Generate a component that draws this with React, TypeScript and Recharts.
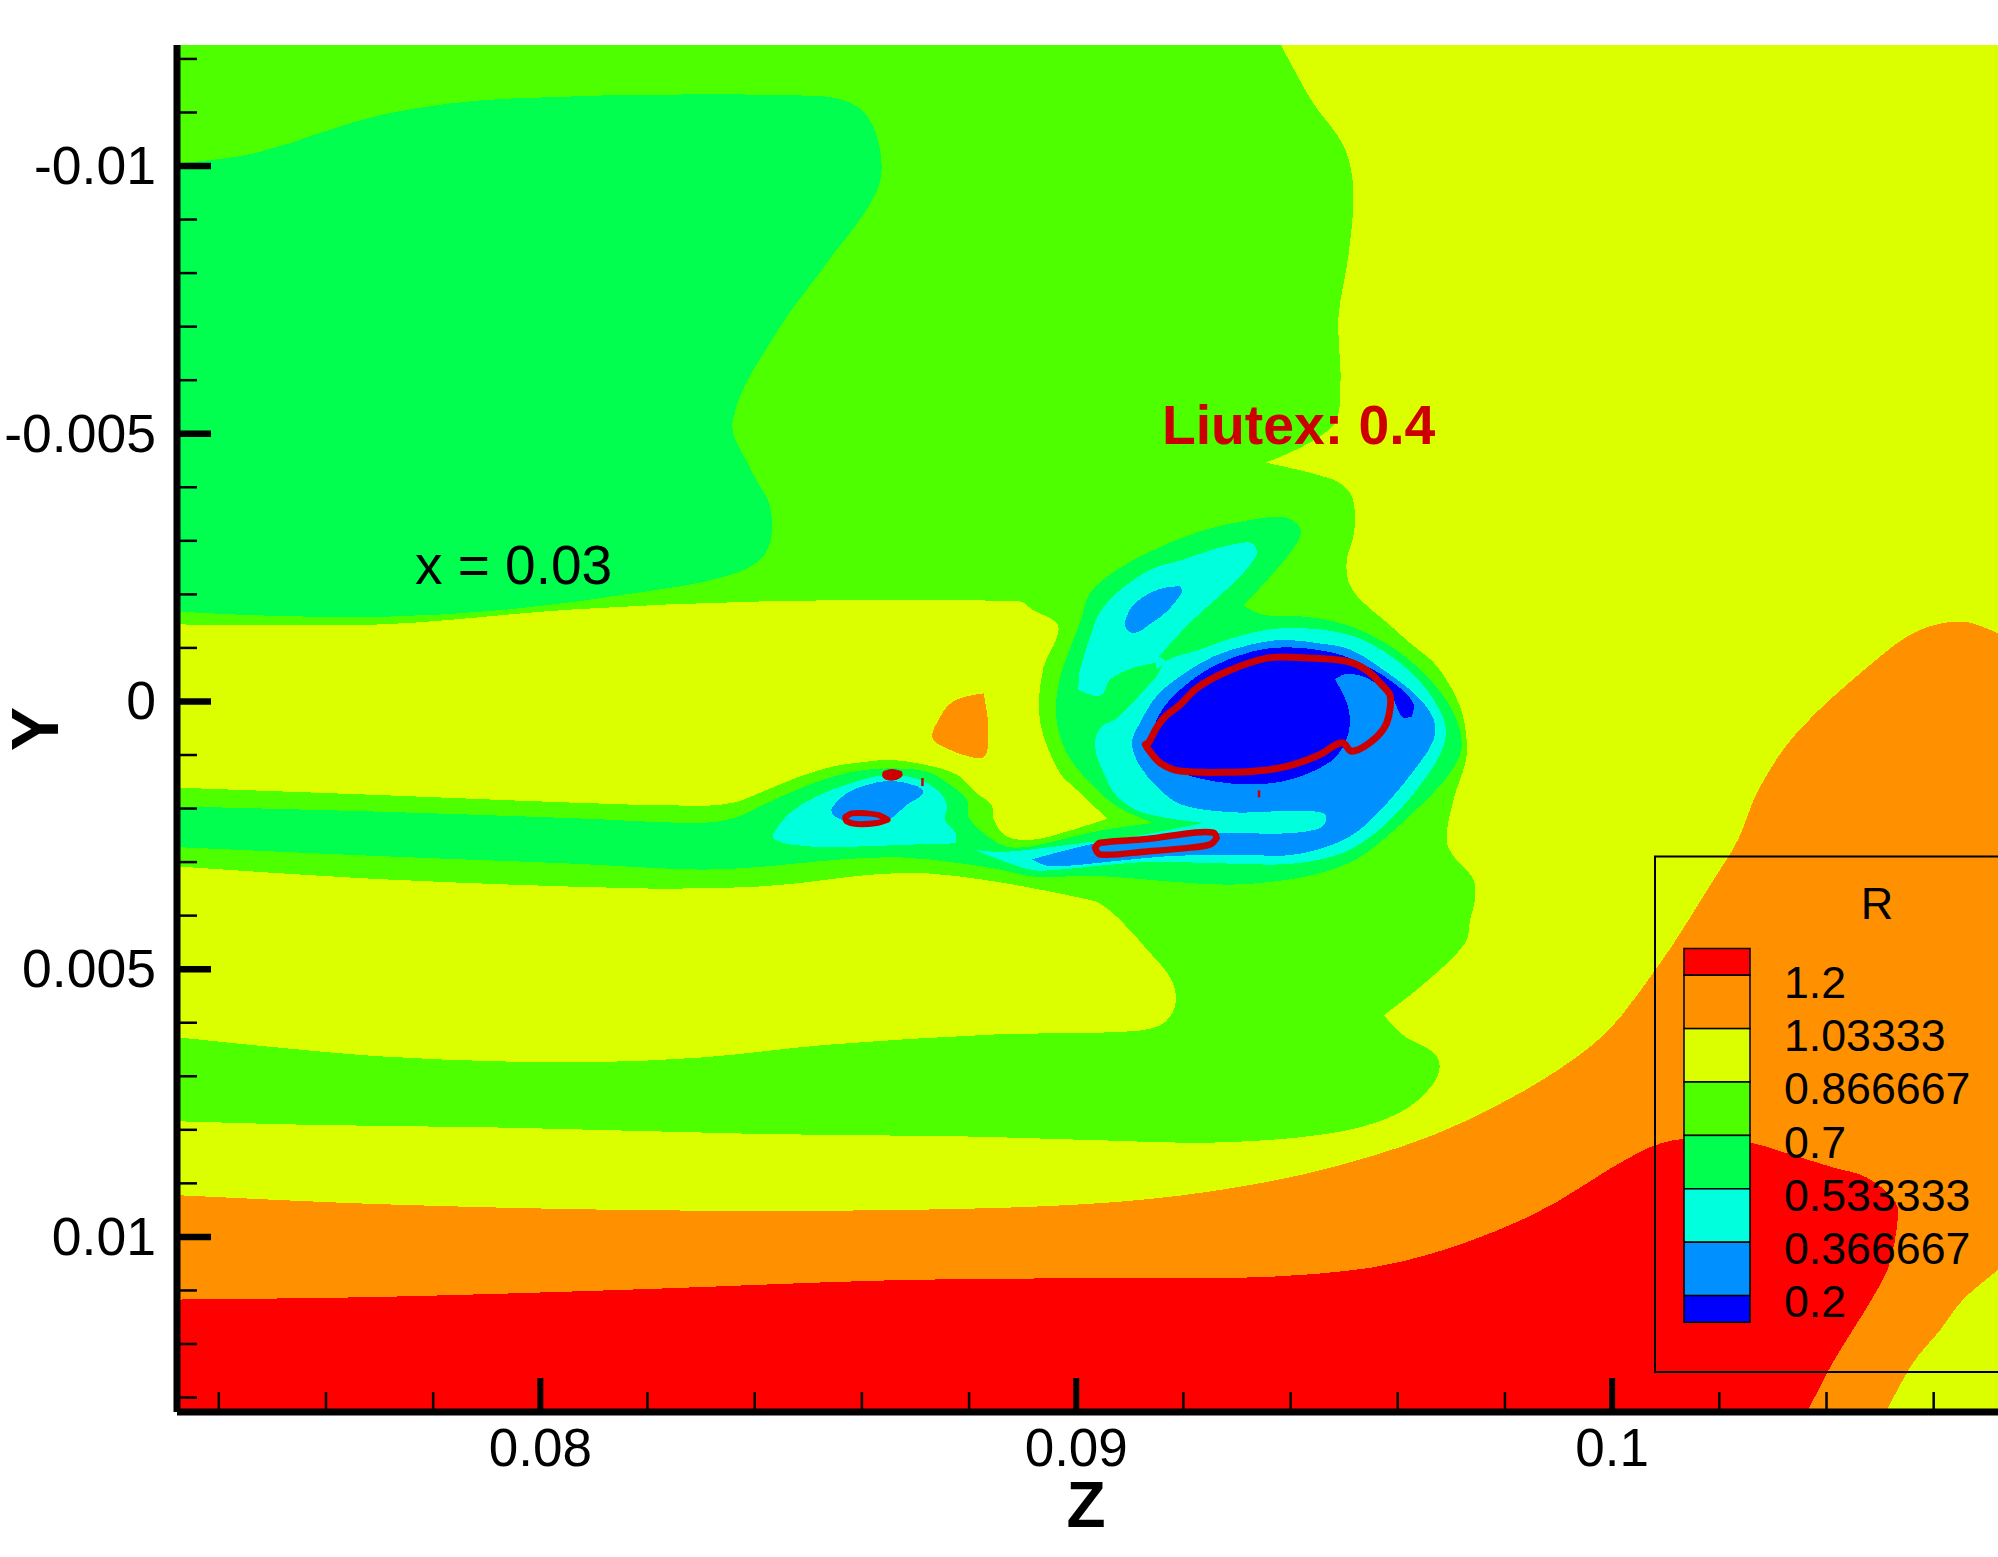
import React from "react";
import { ScatterChart, Scatter, XAxis, YAxis, ReferenceDot, Legend, Label } from "recharts";

type Pair = [number, number];

// Plot extent (Z, Y)
const L = 0.07322, R = 0.1072, T = -0.01226, B = 0.01327;

const xTicks = [0.074, 0.076, 0.078, 0.08, 0.082, 0.084, 0.086, 0.088, 0.09, 0.092, 0.094, 0.096, 0.098, 0.1, 0.102, 0.104, 0.106];
const xLabelled: Record<string, string> = { "0.08": "0.08", "0.09": "0.09", "0.1": "0.1" };
const yTicks = [-0.012, -0.011, -0.01, -0.009, -0.008, -0.007, -0.006, -0.005, -0.004, -0.003, -0.002, -0.001, 0, 0.001, 0.002, 0.003, 0.004, 0.005, 0.006, 0.007, 0.008, 0.009, 0.01, 0.011, 0.012, 0.013];
const yLabelled: Record<string, string> = { "-0.01": "-0.01", "-0.005": "-0.005", "0": "0", "0.005": "0.005", "0.01": "0.01" };

const legendLevels = ["1.2", "1.03333", "0.866667", "0.7", "0.533333", "0.366667", "0.2"];
const legendColors = ["#ff0000", "#ff9000", "#dcff00", "#4eff00", "#00ff4e", "#00ffdc", "#0090ff", "#0000ff"];

const base: Pair[] = [[L, T], [R, T], [R, B], [L, B]];

const orangeBand: Pair[] = [[L, 0.00922], [0.07705, 0.00939], [0.08181, 0.0095], [0.08656, 0.0095], [0.09013, 0.00939], [0.09251, 0.00915], [0.09489, 0.00867], [0.09726, 0.00784], [0.09964, 0.00641], [0.10083, 0.00498], [0.1019, 0.00332], [0.10235, 0.00258], [0.10273, 0.00165], [0.10345, 0.00058], [0.10487, -0.00073], [0.10571, -0.00132], [0.10654, -0.00149], [R, -0.00127], [R, 0.01062], [0.10655, 0.01117], [0.10612, 0.01174], [0.10561, 0.01236], [0.10511, B], [L, B]];

const redBand: Pair[] = [[L, 0.01117], [0.07705, 0.01112], [0.08181, 0.01098], [0.08656, 0.01081], [0.09013, 0.01077], [0.0937, 0.01074], [0.09608, 0.01046], [0.09845, 0.00962], [0.10052, 0.00841], [0.10133, 0.00817], [0.10257, 0.00824], [0.10333, 0.00846], [0.10411, 0.0087], [0.10475, 0.00889], [0.10528, 0.00934], [0.10533, 0.00967], [0.10516, 0.01055], [0.10487, 0.01112], [0.10449, 0.01174], [0.10411, 0.01236], [0.10364, B], [L, B]];

const greenMain: Pair[] = [[L, T], [0.09382, T], [0.09441, -0.01119], [0.095, -0.01036], [0.09517, -0.00953], [0.09508, -0.00834], [0.09489, -0.00715], [0.09493, -0.00596], [0.09477, -0.00513], [0.09353, -0.00446], [0.0948, -0.00414], [0.09511, -0.00389], [0.0952, -0.00352], [0.09517, -0.00308], [0.09505, -0.00265], [0.09508, -0.00224], [0.0953, -0.0019], [0.09573, -0.00153], [0.09623, -0.00109], [0.09673, -0.00066], [0.09716, 0.00009], [0.09729, 0.00077], [0.09726, 0.00115], [0.09704, 0.00183], [0.09691, 0.00258], [0.09704, 0.00289], [0.09741, 0.00332], [0.09744, 0.0037], [0.09735, 0.00407], [0.09726, 0.00451], [0.09655, 0.00522], [0.09574, 0.00586], [0.09608, 0.00622], [0.09674, 0.00665], [0.09667, 0.00713], [0.09596, 0.00772], [0.09465, 0.00808], [0.09251, 0.00824], [0.09061, 0.0082], [0.08775, 0.00812], [0.08419, 0.00808], [0.07943, 0.00796], [0.07586, 0.00791], [L, 0.00784]];

const yellowUpper: Pair[] = [[L, -0.00144], [0.07705, -0.00144], [0.08062, -0.00172], [0.08419, -0.00187], [0.08894, -0.00187], [0.0892, -0.0017], [0.08964, -0.00146], [0.08964, -0.0012], [0.08939, -0.00064], [0.0893, 0.00011], [0.08939, 0.00065], [0.0897, 0.00134], [0.09001, 0.00165], [0.09058, 0.00219], [0.08982, 0.00243], [0.0892, 0.00258], [0.0887, 0.00252], [0.08846, 0.00221], [0.08842, 0.00194], [0.08814, 0.00171], [0.08778, 0.00137], [0.08721, 0.00119], [0.08653, 0.00109], [0.08597, 0.00114], [0.08547, 0.00121], [0.08485, 0.0014], [0.08423, 0.00165], [0.08361, 0.00189], [0.08297, 0.00195], [0.08062, 0.00189], [0.07705, 0.00175], [L, 0.00161]];

const orangeSpot: Pair[] = [[0.08827, -0.00015], [0.0877, 0], [0.0874, 0.0004], [0.08732, 0.00069], [0.08759, 0.00088], [0.08801, 0.00103], [0.08827, 0.00104], [0.08835, 0.00084], [0.08835, 0.00034]];

const yellowLower: Pair[] = [[L, 0.00308], [0.07705, 0.00332], [0.08181, 0.00349], [0.08379, 0.00347], [0.08485, 0.00339], [0.08609, 0.00324], [0.08721, 0.00321], [0.08827, 0.00333], [0.0892, 0.00349], [0.09013, 0.00368], [0.09044, 0.00377], [0.09082, 0.00408], [0.09132, 0.00463], [0.09179, 0.00522], [0.09184, 0.0057], [0.09156, 0.00605], [0.09084, 0.00617], [0.08847, 0.00622], [0.08537, 0.00641], [0.083, 0.00665], [0.08062, 0.00674], [0.07705, 0.00663], [L, 0.00627]];

const greenTopLeft: Pair[] = [[L, -0.01005], [0.07467, -0.01024], [0.07705, -0.01096], [0.07943, -0.01126], [0.08514, -0.01131], [0.08597, -0.01107], [0.08633, -0.01036], [0.08628, -0.00953], [0.08537, -0.00822], [0.08442, -0.00691], [0.08359, -0.00525], [0.08395, -0.00429], [0.0843, -0.00358], [0.08419, -0.00275], [0.08347, -0.00234], [0.08181, -0.00203], [0.07943, -0.00172], [0.07705, -0.00158], [0.07467, -0.00161], [L, -0.00168]];

const greenVortex: Pair[] = [[L, 0.00196], [0.07705, 0.00206], [0.08062, 0.00218], [0.08297, 0.00227], [0.08361, 0.00218], [0.08423, 0.0019], [0.08485, 0.00162], [0.08547, 0.0014], [0.08597, 0.00129], [0.08653, 0.00125], [0.08721, 0.00131], [0.08765, 0.00156], [0.08796, 0.00184], [0.08799, 0.00215], [0.08827, 0.00246], [0.0887, 0.00271], [0.0892, 0.0027], [0.08982, 0.00255], [0.09057, 0.00239], [0.09144, 0.00227], [0.09076, 0.00196], [0.0902, 0.00146], [0.08982, 0.00096], [0.08964, 0.0004], [0.08964, -0.00016], [0.08976, -0.00066], [0.09007, -0.00147], [0.09026, -0.00203], [0.09076, -0.00246], [0.09138, -0.0028], [0.09231, -0.00318], [0.09325, -0.00339], [0.09387, -0.00344], [0.09418, -0.00324], [0.09412, -0.00296], [0.09368, -0.0024], [0.09312, -0.00179], [0.09349, -0.00162], [0.09418, -0.00159], [0.0948, -0.0015], [0.09542, -0.00128], [0.09604, -0.00091], [0.0966, -0.00041], [0.09704, 0.00021], [0.09719, 0.00084], [0.09698, 0.00133], [0.09648, 0.00189], [0.09573, 0.00258], [0.09511, 0.00301], [0.09418, 0.00329], [0.09293, 0.00342], [0.09169, 0.00336], [0.09045, 0.00326], [0.0892, 0.00327], [0.08858, 0.00314], [0.08782, 0.00302], [0.08671, 0.00291], [0.08547, 0.00296], [0.08423, 0.00308], [0.08297, 0.00314], [0.08062, 0.00303], [0.07705, 0.00289], [L, 0.00272]];

const cyanBlob: Pair[] = [[0.08435, 0.00246], [0.08466, 0.00208], [0.08516, 0.00177], [0.08578, 0.00153], [0.08647, 0.00137], [0.08702, 0.00144], [0.0874, 0.00165], [0.08759, 0.00194], [0.08755, 0.00221], [0.08775, 0.00246], [0.08775, 0.00265], [0.08672, 0.00268], [0.08547, 0.00272], [0.08472, 0.00268], [0.08438, 0.00258]];

const blueBlob: Pair[] = [[0.08544, 0.00199], [0.08572, 0.00171], [0.08609, 0.00156], [0.08653, 0.00148], [0.08696, 0.00156], [0.08713, 0.00165], [0.08712, 0.00175], [0.08684, 0.00193], [0.08659, 0.00215], [0.0864, 0.00224], [0.08572, 0.00224], [0.08547, 0.00212]];

const cyanArm: Pair[] = [[0.09315, -0.00297], [0.09331, -0.00293], [0.09336, -0.00272], [0.09287, -0.00215], [0.09231, -0.00165], [0.09188, -0.00122], [0.09155, -0.00084], [0.09168, -0.00075], [0.0915, -0.00059], [0.09149, -0.00072], [0.09107, -0.00063], [0.09063, -0.00041], [0.09045, -0.00011], [0.09004, -0.00022], [0.09007, -0.00059], [0.09035, -0.00147], [0.09045, -0.00168], [0.09076, -0.00203], [0.09138, -0.00246], [0.092, -0.00265], [0.09262, -0.00286]];

const cyanRing: Pair[] = [[0.09168, -0.00076], [0.09231, -0.00097], [0.09293, -0.00119], [0.09356, -0.00134], [0.09418, -0.00137], [0.0948, -0.00131], [0.09542, -0.00112], [0.09604, -0.00072], [0.09654, -0.00022], [0.09688, 0.0004], [0.09685, 0.00084], [0.09654, 0.0014], [0.09604, 0.00202], [0.09542, 0.00258], [0.0948, 0.00289], [0.09387, 0.00304], [0.09231, 0.00301], [0.09107, 0.00301], [0.08982, 0.00313], [0.0892, 0.00315], [0.08858, 0.00296], [0.08811, 0.00277], [0.08858, 0.00281], [0.0892, 0.00276], [0.09014, 0.00264], [0.09107, 0.00252], [0.09237, 0.00227], [0.09125, 0.00208], [0.09076, 0.00177], [0.09051, 0.00133], [0.09035, 0.00084], [0.09045, 0.00049], [0.09076, 0.00031], [0.0915, -0.00047]];

const blueArm: Pair[] = [[0.09194, -0.00215], [0.09197, -0.00203], [0.09169, -0.00168], [0.09141, -0.00147], [0.0911, -0.00128], [0.09093, -0.00137], [0.09093, -0.00156], [0.09107, -0.00181], [0.09138, -0.00203], [0.09169, -0.00213]];

const blueRing: Pair[] = [[0.09104, 0.00077], [0.09119, 0.0004], [0.0915, -0.0001], [0.09194, -0.00047], [0.09256, -0.00084], [0.09325, -0.00106], [0.09387, -0.00115], [0.09449, -0.00109], [0.09511, -0.00097], [0.09573, -0.00059], [0.09636, -0.0001], [0.09667, 0.00034], [0.09667, 0.00071], [0.09636, 0.00121], [0.09586, 0.00183], [0.0953, 0.00239], [0.0948, 0.00267], [0.09399, 0.00287], [0.09293, 0.00286], [0.09169, 0.00289], [0.09045, 0.00301], [0.08951, 0.00308], [0.08917, 0.00295], [0.09026, 0.00267], [0.09107, 0.00255], [0.09268, 0.00245], [0.09374, 0.00247], [0.09449, 0.00239], [0.09466, 0.00224], [0.09461, 0.00208], [0.09387, 0.00205], [0.09293, 0.00207], [0.09194, 0.00192], [0.0915, 0.00158], [0.09119, 0.00121]];

const deepCore: Pair[] = [[0.09138, 0.00077], [0.09157, 0.00021], [0.09194, -0.00022], [0.09256, -0.00066], [0.09331, -0.00094], [0.09399, -0.00101], [0.0948, -0.00091], [0.09542, -0.00066], [0.09592, -0.00035], [0.09629, 0.00003], [0.09626, 0.00028], [0.09608, 0.00029], [0.09589, -0.0001], [0.09567, -0.00028], [0.09542, -0.00044], [0.09505, -0.00052], [0.09483, -0.00041], [0.09505, 0.00003], [0.09511, 0.0004], [0.09502, 0.00077], [0.0948, 0.00108], [0.09436, 0.00133], [0.09387, 0.00149], [0.09325, 0.00155], [0.09256, 0.00149], [0.09194, 0.00133], [0.0915, 0.00108]];

const liutexMain: Pair[] = [[0.09135, 0.00077], [0.0915, 0.00049], [0.09166, 0.00028], [0.09194, 0.00006], [0.09225, -0.00025], [0.09281, -0.00056], [0.09356, -0.00081], [0.0943, -0.00081], [0.09505, -0.00075], [0.09542, -0.00058], [0.09573, -0.00028], [0.09586, -0.0001], [0.09583, 0.00028], [0.09573, 0.00052], [0.09548, 0.00077], [0.09514, 0.00093], [0.09496, 0.00077], [0.09455, 0.00099], [0.09405, 0.00118], [0.09356, 0.00128], [0.09293, 0.00132], [0.09194, 0.0013], [0.09157, 0.00115], [0.09135, 0.0009], [0.09129, 0.0008]];

const liutexLower: Pair[] = [[0.09035, 0.00273], [0.09045, 0.00264], [0.09132, 0.00257], [0.09219, 0.00245], [0.09256, 0.00245], [0.09262, 0.00255], [0.0925, 0.00267], [0.09213, 0.00273], [0.09132, 0.0028], [0.09045, 0.00286]];

const liutexBlob: Pair[] = [[0.08569, 0.00216], [0.08581, 0.00209], [0.08609, 0.00209], [0.08634, 0.00213], [0.08648, 0.00221], [0.08628, 0.00227], [0.0859, 0.00229], [0.08572, 0.00224]];

const liutexDot: Pair[] = [[0.0864, 0.00131], [0.08656, 0.00127], [0.08674, 0.00131], [0.08674, 0.0014], [0.08656, 0.00147], [0.0864, 0.00142]];

const liutexTickA: Pair[] = [[0.08713, 0.00143], [0.08713, 0.00158]];
const liutexTickB: Pair[] = [[0.09341, 0.00166], [0.09341, 0.00179]];

const toRows = (pairs: Pair[]) => pairs.map(([z, y]) => ({ z, y }));
const NoDot = () => <g />;
type Pt = { x: number; y: number };
const pathOf = (pts: Pt[]) => "M" + pts.map((p) => `${p.x},${p.y}`).join("L");

// Closed outline through the given scale-mapped points: curves through gentle
// bends, keeps real corners (sharp turns and points on the plot's frame).
const smoothClosed = (pts: Pt[]) => {
  const n = pts.length;
  const dirs = pts.map((p, i) => {
    const a = pts[(i - 1 + n) % n];
    const b = pts[(i + 1) % n];
    const onFrame = p.x <= 178 || p.x >= 1997 || p.y <= 46 || p.y >= 1411;
    const v1 = [p.x - a.x, p.y - a.y];
    const v2 = [b.x - p.x, b.y - p.y];
    const cos = (v1[0] * v2[0] + v1[1] * v2[1]) / (Math.hypot(v1[0], v1[1]) * Math.hypot(v2[0], v2[1]) || 1);
    if (onFrame || cos < 0.25) return null;
    const d = [b.x - a.x, b.y - a.y];
    const m = Math.hypot(d[0], d[1]) || 1;
    return [d[0] / m, d[1] / m];
  });
  let s = `M${pts[0].x},${pts[0].y}`;
  for (let i = 0; i < n; i++) {
    const p = pts[i];
    const q = pts[(i + 1) % n];
    const len = Math.hypot(q.x - p.x, q.y - p.y) / 3;
    const d1 = dirs[i];
    const d2 = dirs[(i + 1) % n];
    const c1 = d1 ? [p.x + d1[0] * len, p.y + d1[1] * len] : [p.x, p.y];
    const c2 = d2 ? [q.x - d2[0] * len, q.y - d2[1] * len] : [q.x, q.y];
    s += `C${c1[0]},${c1[1]} ${c2[0]},${c2[1]} ${q.x},${q.y}`;
  }
  return s + "Z";
};

const filled = (color: string) => (p: any) => (
  <path d={smoothClosed(p.points)} fill={color} stroke="none" shapeRendering="crispEdges" />
);
const loop = (width: number) => (p: any) => (
  <path d={smoothClosed(p.points)} fill="none" stroke="#cc0000" strokeWidth={width} strokeLinejoin="round" />
);
const dash = (p: any) => <path d={pathOf(p.points)} fill="none" stroke="#cc0000" strokeWidth={2.5} />;
const solidRed = (p: any) => <path d={smoothClosed(p.points)} fill="#cc0000" stroke="#cc0000" strokeWidth={1} />;

const FONT = "'Liberation Sans', Arial, sans-serif";

const XTick = (props: any) => {
  const { x, y, payload } = props;
  const label = xLabelled[String(payload.value)];
  return (
    <g>
      <line x1={x} x2={x} y1={y} y2={y - (label ? 34 : 20)} stroke="#000" strokeWidth={label ? 6 : 2.5} />
      {label && (
        <text x={x} y={y + 54} textAnchor="middle" fontFamily={FONT} fontSize={53} fill="#000">
          {label}
        </text>
      )}
    </g>
  );
};

const YTick = (props: any) => {
  const { x, y, payload } = props;
  const label = yLabelled[String(payload.value)];
  return (
    <g>
      <line x1={x} x2={x + (label ? 34 : 20)} y1={y} y2={y} stroke="#000" strokeWidth={label ? 6.5 : 2.5} />
      {label && (
        <text x={x - 21} y={y + 18} textAnchor="end" fontFamily={FONT} fontSize={53.5} fill="#000">
          {label}
        </text>
      )}
    </g>
  );
};

const LegendBox = () => {
  const barTop = 948.5;
  const step = 53.4;
  const edge = (i: number) => (i === 0 ? barTop : i === 8 ? barTop + 7 * step : barTop + (i - 0.5) * step);
  return (
    <svg width={1998} height={1557} style={{ display: "block", overflow: "hidden" }}>
      <rect x={1655} y={856.5} width={400} height={515.5} fill="none" stroke="#000" strokeWidth={2} />
      <text x={1877} y={918.5} textAnchor="middle" fontFamily={FONT} fontSize={45} fill="#000">R</text>
      {legendColors.map((c, i) => (
        <rect key={c} x={1684} y={edge(i)} width={66} height={edge(i + 1) - edge(i)} fill={c} stroke="#000" strokeWidth={1.5} />
      ))}
      {legendLevels.map((t, i) => (
        <text key={t} x={1784} y={998 + i * 53.2} fontFamily={FONT} fontSize={44.7} fill="#000">{t}</text>
      ))}
    </svg>
  );
};

const polygons: [Pair[], string][] = [
  [base, "#dcff00"],
  [orangeBand, "#ff9000"],
  [redBand, "#ff0000"],
  [greenMain, "#4eff00"],
  [yellowUpper, "#dcff00"],
  [orangeSpot, "#ff9000"],
  [yellowLower, "#dcff00"],
  [greenTopLeft, "#00ff4e"],
  [greenVortex, "#00ff4e"],
  [cyanBlob, "#00ffdc"],
  [blueBlob, "#0090ff"],
  [cyanArm, "#00ffdc"],
  [cyanRing, "#00ffdc"],
  [blueArm, "#0090ff"],
  [blueRing, "#0090ff"],
  [deepCore, "#0000ff"],
];

export default function App() {
  return (
    <div style={{ position: "absolute", left: 0, top: 0, width: 1998, height: 1557, background: "#fff", overflow: "hidden" }}>
      <ScatterChart width={1998} height={1557} margin={{ top: 45, right: 0, bottom: 0, left: 0 }}>
        {polygons.map(([pts, color], i) => (
          <Scatter key={i} data={toRows(pts)} dataKey="y" line={filled(color)} shape={NoDot} isAnimationActive={false} legendType="none" zIndex={100} />
        ))}
        <Scatter data={toRows(liutexMain)} line={loop(7)} shape={NoDot} isAnimationActive={false} legendType="none" zIndex={100} />
        <Scatter data={toRows(liutexLower)} line={loop(6.5)} shape={NoDot} isAnimationActive={false} legendType="none" zIndex={100} />
        <Scatter data={toRows(liutexBlob)} line={loop(6)} shape={NoDot} isAnimationActive={false} legendType="none" zIndex={100} />
        <Scatter data={toRows(liutexDot)} line={solidRed} shape={NoDot} isAnimationActive={false} legendType="none" zIndex={100} />
        <Scatter data={toRows(liutexTickA)} line={dash} shape={NoDot} isAnimationActive={false} legendType="none" zIndex={100} />
        <Scatter data={toRows(liutexTickB)} line={dash} shape={NoDot} isAnimationActive={false} legendType="none" zIndex={100} />

        <XAxis
          type="number"
          dataKey="z"
          domain={[L, R]}
          ticks={xTicks}
          interval={0}
          height={145}
          tickSize={0}
          tickMargin={0}
          tickLine={false}
          axisLine={{ stroke: "#000", strokeWidth: 7 }}
          tick={XTick}
          allowDataOverflow
        >
          <Label
            value="Z"
            content={() => (
              <text x={1086} y={1527} textAnchor="middle" fontFamily={FONT} fontWeight="bold" fontSize={64} fill="#000">
                Z
              </text>
            )}
          />
        </XAxis>
        <YAxis
          type="number"
          dataKey="y"
          reversed
          domain={[T, B]}
          ticks={yTicks}
          interval={0}
          width={177}
          tickSize={0}
          tickMargin={0}
          tickLine={false}
          axisLine={{ stroke: "#000", strokeWidth: 7 }}
          tick={YTick}
          allowDataOverflow
        >
          <Label
            value="Y"
            content={() => (
              <text x={0} y={0} transform="translate(58,729) rotate(-90)" textAnchor="middle" fontFamily={FONT} fontWeight="bold" fontSize={66} fill="#000">
                Y
              </text>
            )}
          />
        </YAxis>

        <ReferenceDot x={0.09415} y={-0.00517} r={0} fill="none" stroke="none"
          label={{ value: "Liutex: 0.4", position: "center", fontFamily: FONT, fontWeight: "bold", fontSize: 55.3, fill: "#cc0000" }} />
        <ReferenceDot x={0.0795} y={-0.00256} r={0} fill="none" stroke="none"
          label={{ value: "x = 0.03", position: "center", fontFamily: FONT, fontSize: 55, fill: "#000" }} />

        <Legend
          layout="horizontal"
          verticalAlign="middle"
          align="center"
          content={() => <LegendBox />}
          wrapperStyle={{ position: "absolute", left: 0, top: 0, width: 1998, height: 1557, pointerEvents: "none" }}
        />
      </ScatterChart>
    </div>
  );
}
